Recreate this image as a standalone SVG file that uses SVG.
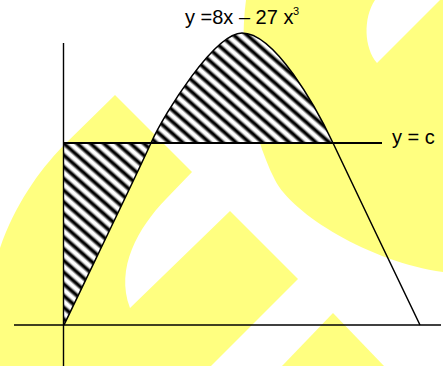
<svg xmlns="http://www.w3.org/2000/svg" width="443" height="366" viewBox="0 0 443 366">
<style>
.wm{fill:#FFFF80;stroke:none}
.ax{stroke:#000;stroke-width:1.4;fill:none}
.cl{stroke:#000;stroke-width:2;fill:none}
.cv{stroke:#000;stroke-width:1.5;fill:none}
.hz{fill:url(#hatch);stroke:none}
.lbl{font-family:"Liberation Sans",Arial,sans-serif;fill:#000}
</style>
<defs>
<linearGradient id="stripeGrad" x1="0" y1="0" x2="0" y2="1">
<stop offset="0" stop-color="#fff"/>
<stop offset="0.12" stop-color="#fff"/>
<stop offset="0.38" stop-color="#000"/>
<stop offset="0.55" stop-color="#000"/>
<stop offset="0.8" stop-color="#fff"/>
<stop offset="1" stop-color="#fff"/>
</linearGradient>
<pattern id="hatch" patternUnits="userSpaceOnUse" width="20" height="8.8" patternTransform="rotate(41.3)">
<rect width="20" height="8.8" fill="url(#stripeGrad)"/>
</pattern>
</defs>
<rect width="443" height="366" fill="#fff"/>
<g id="watermark">
<path class="wm" d="M246,0 C238,60 250,130 275,180 C292,214 370,262 443,272 L443,0 L440,0 L377,63 C364,48 363,18 375,0 Z"/>
<path class="wm" d="M0,248 C15,205 38,172 63,146 L115,95 L192,172 L166,199 C138,228 115,268 130,308 L230,211 L298,279 L211,366 L0,366 Z"/>
<path class="wm" d="M333,313 L384,366 L282,366 Z"/>
</g>
<g id="hatched-regions">
<path id="region-left" class="hz" d="M64,325 C100,250 137,174 151,143 L64,143 Z"/>
<path id="region-top" class="hz" d="M151,143 C165,112 215,33 242,33 C275,33 316,107 333,143 Z"/>
</g>
<g id="axes">
<line class="ax" x1="63.5" y1="43" x2="63.5" y2="366"/>
<line class="ax" x1="14" y1="325" x2="441" y2="325" stroke-width="1.6"/>
<line id="line-c" class="cl" x1="63" y1="143" x2="382" y2="143"/>
</g>
<g id="curve">
<path class="cv" d="M64,325 C100,250 137,174 151,143 C165,112 215,33 242,33 C275,33 316,107 333,143 C350,179 403,290 420,325"/>
</g>
<g id="labels">
<text class="lbl" x="185" y="24" font-size="20">y =8x – 27 x<tspan x="293" y="15" font-size="11">3</tspan></text>
<text class="lbl" x="392" y="144" font-size="20">y = c</text>
</g>
</svg>
